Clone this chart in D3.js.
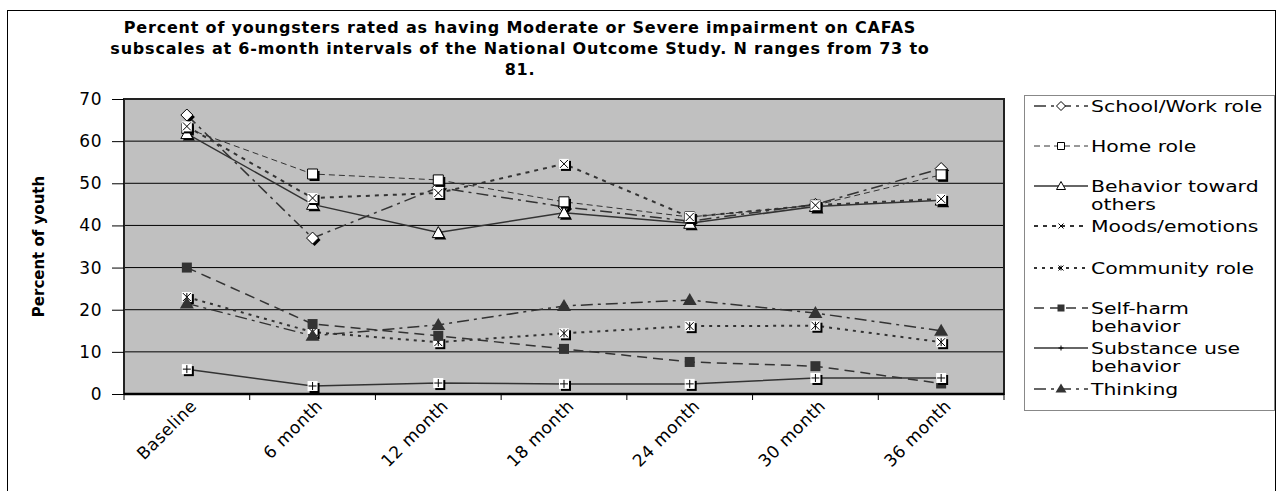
<!DOCTYPE html>
<html>
<head>
<meta charset="utf-8">
<script src="https://cdn.jsdelivr.net/npm/d3@7"></script>
<style>
body { margin: 0; background: #fff; }
text { font-family: "DejaVu Sans", Verdana, sans-serif; fill: #000; }
</style>
</head>
<body>
<div id="chart"></div>
<script>
const width = 1280;
const height = 491;

const categories = ["Baseline", "6 month", "12 month", "18 month", "24 month", "30 month", "36 month"];
const schoolWork = [66.2, 37.0, 49.0, 44.4, 41.0, 45.0, 53.5];
const homeRole   = [63.0, 52.2, 50.8, 45.6, 42.0, 44.8, 52.0];
const behavior   = [61.8, 45.0, 38.3, 43.0, 40.5, 44.5, 46.0];
const moods      = [63.5, 46.5, 47.7, 54.6, 42.0, 44.8, 46.3];
const community  = [23.0, 14.7, 12.3, 14.4, 16.1, 16.2, 12.3];
const selfHarm   = [30.0, 16.6, 13.8, 10.7, 7.6, 6.6, 2.5];
const substance  = [5.9, 1.9, 2.6, 2.4, 2.4, 3.8, 3.8];
const thinking   = [21.5, 13.8, 16.4, 20.9, 22.3, 19.2, 15.0];
const yTicks = [0, 10, 20, 30, 40, 50, 60, 70];

const titleLines = [
  "Percent of youngsters rated as having Moderate or Severe impairment on CAFAS",
  "subscales at 6-month intervals of the National Outcome Study.  N ranges from 73 to",
  "81."
];

// line styles and markers per series
const series = [
  { name: ["School/Work role"], values: schoolWork, dash: "12,5,3,5", w: 1.5, marker: "diamond" },
  { name: ["Home role"], values: homeRole, dash: "6,4", w: 1, marker: "square" },
  { name: ["Behavior toward", "others"], values: behavior, dash: null, w: 1.5, marker: "triangle" },
  { name: ["Moods/emotions"], values: moods, dash: "4,5", w: 2, marker: "x" },
  { name: ["Community role"], values: community, dash: "3,5", w: 2, marker: "asterisk" },
  { name: ["Self-harm", "behavior"], values: selfHarm, dash: "10,6", w: 1.5, marker: "fsquare" },
  { name: ["Substance use", "behavior"], values: substance, dash: null, w: 1.5, marker: "plus" },
  { name: ["Thinking"], values: thinking, dash: "12,5,3,5", w: 1.5, marker: "ftriangle" }
];

const plot = { left: 124, right: 1004, top: 99, bottom: 394 };

const svg = d3.select("#chart").append("svg")
    .attr("width", width)
    .attr("height", height);

// outer frame
svg.append("rect")
    .attr("x", 7.5).attr("y", 10.5)
    .attr("width", 1268).attr("height", 500)
    .attr("fill", "#fff").attr("stroke", "#000").attr("stroke-width", 1);

// title
svg.append("g").selectAll("text")
    .data(titleLines)
    .join("text")
    .attr("x", 520)
    .attr("y", (d, i) => 33 + i * 21)
    .attr("text-anchor", "middle")
    .style("font-size", "16px")
    .style("font-weight", "bold")
    .style("letter-spacing", "0.8px")
    .text(d => d);

const x = d3.scaleBand().domain(categories).range([plot.left, plot.right]);
const y = d3.scaleLinear().domain([0, 70]).range([plot.bottom, plot.top]);
const cx = c => x(c) + x.bandwidth() / 2;

// plot background
svg.append("rect")
    .attr("x", plot.left).attr("y", plot.top)
    .attr("width", plot.right - plot.left).attr("height", plot.bottom - plot.top)
    .attr("fill", "#c0c0c0");

// gridlines
svg.append("g").selectAll("line")
    .data(yTicks.filter(t => t > 0 && t < 70))
    .join("line")
    .attr("x1", plot.left).attr("x2", plot.right)
    .attr("y1", d => y(d)).attr("y2", d => y(d))
    .attr("stroke", "#000").attr("stroke-width", 1);

// plot border
svg.append("rect")
    .attr("x", plot.left).attr("y", plot.top)
    .attr("width", plot.right - plot.left).attr("height", plot.bottom - plot.top)
    .attr("fill", "none").attr("stroke", "#222").attr("stroke-width", 2);

// y axis
const yAxis = svg.append("g")
    .attr("transform", `translate(${plot.left},0)`)
    .call(d3.axisLeft(y).tickValues(yTicks).tickSize(12).tickPadding(10));
yAxis.select(".domain").remove();
yAxis.selectAll(".tick line").attr("stroke", "#000");
yAxis.selectAll(".tick text")
    .style("font-size", "17px")
    .style("letter-spacing", "0.5px")
    .style("font-family", "\"DejaVu Sans\", Verdana, sans-serif")
    .attr("fill", "#000");

svg.append("text")
    .attr("transform", `translate(44,${(plot.top + plot.bottom) / 2}) rotate(-90)`)
    .attr("text-anchor", "middle")
    .style("font-size", "15px")
    .style("font-weight", "bold")
    .text("Percent of youth");

// x axis: ticks between categories
const bounds = categories.map(c => x(c)).concat([plot.right]);
svg.append("g").selectAll("line")
    .data(bounds)
    .join("line")
    .attr("x1", d => d).attr("x2", d => d)
    .attr("y1", plot.bottom).attr("y2", plot.bottom + 6)
    .attr("stroke", "#000").attr("stroke-width", 1);
svg.append("line")
    .attr("x1", plot.left).attr("x2", plot.right)
    .attr("y1", plot.bottom).attr("y2", plot.bottom)
    .attr("stroke", "#000").attr("stroke-width", 2.5);

svg.append("g").selectAll("text")
    .data(categories)
    .join("text")
    .attr("transform", d => `translate(${cx(d) + 11},${plot.bottom + 13}) rotate(-45)`)
    .attr("text-anchor", "end")
    .style("font-size", "17px")
    .style("letter-spacing", "0.5px")
    .text(d => d);

// markers
function drawMarker(g, type, s, shadow) {
  const h = s / 2;
  const sh = shadow ? 2 : 0;
  if (type === "diamond" || type === "square" || type === "triangle") {
    let p;
    if (type === "diamond") p = `M0,${-h - 1}L${h + 1},0L0,${h + 1}L${-h - 1},0Z`;
    else if (type === "square") p = `M${-h},${-h}H${h}V${h}H${-h}Z`;
    else p = `M0,${-h - 1}L${h + 1},${h}L${-h - 1},${h}Z`;
    if (shadow) g.append("path").attr("d", p).attr("transform", `translate(${sh},${sh})`).attr("fill", "#000");
    g.append("path").attr("d", p).attr("fill", "#fff").attr("stroke", "#000").attr("stroke-width", 1);
  } else if (type === "fsquare") {
    g.append("rect").attr("x", -h).attr("y", -h).attr("width", s).attr("height", s).attr("fill", "#333");
  } else if (type === "ftriangle") {
    g.append("path").attr("d", `M0,${-h - 2}L${h + 2},${h}L${-h - 2},${h}Z`).attr("fill", "#333");
  } else {
    if (shadow) {
      g.append("rect").attr("x", -h + sh).attr("y", -h + sh).attr("width", s).attr("height", s).attr("fill", "#000");
      g.append("rect").attr("x", -h).attr("y", -h).attr("width", s).attr("height", s).attr("fill", "#fff");
    }
    const r = h - 1;
    let p = "";
    if (type === "x" || type === "asterisk") p += `M${-r},${-r}L${r},${r}M${r},${-r}L${-r},${r}`;
    if (type === "plus") p += `M${-r},0H${r}M0,${-r}V${r}`;
    if (type === "asterisk") p += `M0,${-r}V${r}`;
    g.append("path").attr("d", p).attr("fill", "none").attr("stroke", "#000").attr("stroke-width", 1);
  }
}

const line = d3.line().x((d, i) => cx(categories[i])).y(d => y(d));

series.forEach(s => {
  const g = svg.append("g");
  g.append("path")
      .attr("d", line(s.values))
      .attr("fill", "none")
      .attr("stroke", "#333")
      .attr("stroke-width", s.w)
      .attr("stroke-dasharray", s.dash);
  s.values.forEach((v, i) => {
    const mg = g.append("g").attr("transform", `translate(${cx(categories[i])},${y(v)})`);
    drawMarker(mg, s.marker, 10, true);
  });
});

// legend
svg.append("rect")
    .attr("x", 1024.5).attr("y", 95.5)
    .attr("width", 250).attr("height", 315)
    .attr("fill", "#fff").attr("stroke", "#888").attr("stroke-width", 1);

const legendRowY = [106, 146, 186, 226, 268, 308, 348, 389];
series.forEach((s, i) => {
  const ly = legendRowY[i];
  const g = svg.append("g");
  g.append("line")
      .attr("x1", 1034).attr("x2", 1088)
      .attr("y1", ly).attr("y2", ly)
      .attr("stroke", "#333").attr("stroke-width", s.w)
      .attr("stroke-dasharray", s.dash);
  drawMarker(g.append("g").attr("transform", `translate(1061,${ly})`), s.marker, 7, false);
  g.append("g")
      .attr("transform", `translate(1091,${ly + 6}) scale(1.36,1)`)
    .append("text")
      .style("font-size", "15px")
      .selectAll("tspan")
      .data(s.name)
      .join("tspan")
      .attr("x", 0)
      .attr("dy", (d, j) => j === 0 ? 0 : 18)
      .text(d => d);
});
</script>
</body>
</html>
